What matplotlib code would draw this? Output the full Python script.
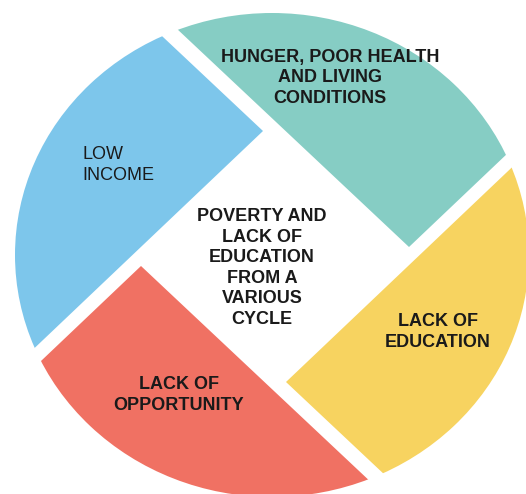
"""Poverty / lack of education cycle diagram (pinwheel of four segments)."""

import matplotlib

matplotlib.use("Agg")
import matplotlib.pyplot as plt
from matplotlib.patches import Ellipse, Polygon

plt.rcParams["font.family"] = ["Liberation Sans", "DejaVu Sans"]

# segments, clockwise from upper-left
labels = [
    "LOW\nINCOME",
    "HUNGER, POOR HEALTH\nAND LIVING\nCONDITIONS",
    "LACK OF\nEDUCATION",
    "LACK OF\nOPPORTUNITY",
]
center_label = "POVERTY AND\nLACK OF\nEDUCATION\nFROM A\nVARIOUS\nCYCLE"

BLUE, TEAL, YELLOW, RED = "#7dc6eb", "#86cdc4", "#f7d360", "#f07163"
colors = [BLUE, TEAL, YELLOW, RED]

# layout (pixel coords, y down)
W, H = 526, 494
CX, CY, RX, RY = 272, 255, 257, 242
D1 = (1.0, 0.94)    # down-right edge direction
D2 = (1.0, -0.95)   # up-right edge direction
corners = [(263, 131), (409, 247), (286, 382), (141, 266)]
# the two edge directions of each segment, pointing away from its inner corner
edges = [
    ((-D1[0], -D1[1]), (-D2[0], -D2[1])),
    ((-D1[0], -D1[1]), D2),
    (D2, D1),
    ((-D2[0], -D2[1]), D1),
]
label_pos = [(82, 165, "left"), (330, 78, "center"), (438, 332, "center"), (179, 395, "center")]
label_weight = ["normal", "bold", "bold", "bold"]
LINE = 20.5
TEXT = "#1a1a1a"


def draw_lines(ax, text, x, yc, ha, weight):
    rows = text.split("\n")
    y0 = yc - LINE * (len(rows) - 1) / 2
    for i, row in enumerate(rows):
        ax.text(x, y0 + i * LINE, row, ha=ha, va="center", fontsize=13,
                fontweight=weight, color=TEXT)


fig = plt.figure(figsize=(W / 100, H / 100), dpi=100)
ax = fig.add_axes([0, 0, 1, 1])
ax.set_xlim(0, W)
ax.set_ylim(H, 0)
ax.axis("off")

L = 1000
for (cx, cy), (a, b), col in zip(corners, edges, colors):
    wedge = Polygon([
        (cx + L * a[0], cy + L * a[1]),
        (cx, cy),
        (cx + L * b[0], cy + L * b[1]),
        (cx + L * (a[0] + b[0]), cy + L * (a[1] + b[1])),
    ], closed=True, transform=ax.transData)
    e = Ellipse((CX, CY), 2 * RX, 2 * RY, facecolor=col, edgecolor="none")
    ax.add_patch(e)
    e.set_clip_path(wedge)

for text, (x, y, ha), w in zip(labels, label_pos, label_weight):
    draw_lines(ax, text, x, y, ha, w)
draw_lines(ax, center_label, 262, 268, "center", "bold")

fig.savefig("out.png", dpi=100)
